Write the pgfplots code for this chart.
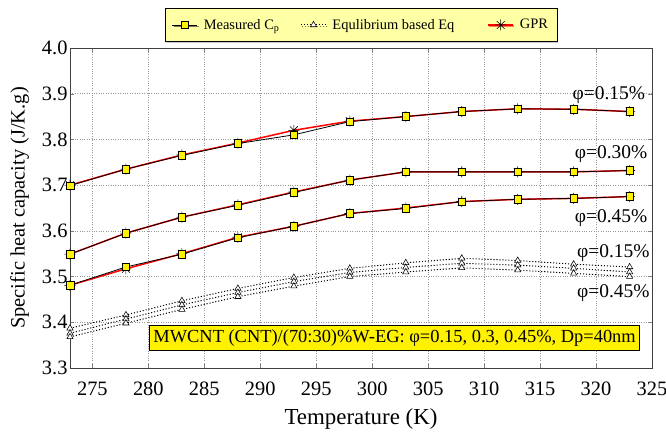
\documentclass[border=0pt]{standalone}
\usepackage{fontspec}
\setmainfont{Liberation Serif}
\usepackage{pgfplots}
\usepackage{pgfplotstable}
\pgfplotsset{compat=1.18}
\usetikzlibrary{shadows}

\definecolor{legyellow}{RGB}{255,255,165}

\pgfdeclareplotmark{star8}{%
  \pgfpathmoveto{\pgfqpoint{-\pgfplotmarksize}{0pt}}%
  \pgfpathlineto{\pgfqpoint{\pgfplotmarksize}{0pt}}%
  \pgfpathmoveto{\pgfqpoint{0pt}{-\pgfplotmarksize}}%
  \pgfpathlineto{\pgfqpoint{0pt}{\pgfplotmarksize}}%
  \pgfpathmoveto{\pgfqpoint{-0.7071\pgfplotmarksize}{-0.7071\pgfplotmarksize}}%
  \pgfpathlineto{\pgfqpoint{0.7071\pgfplotmarksize}{0.7071\pgfplotmarksize}}%
  \pgfpathmoveto{\pgfqpoint{-0.7071\pgfplotmarksize}{0.7071\pgfplotmarksize}}%
  \pgfpathlineto{\pgfqpoint{0.7071\pgfplotmarksize}{-0.7071\pgfplotmarksize}}%
  \pgfusepathqstroke}

\pgfplotstableread{
T m15 m30 m45 g15 g30 g45 e15 e30 e45
273 3.699 3.549 3.481 3.700 3.549 3.481 3.387 3.376 3.368
278 3.735 3.595 3.521 3.735 3.595 3.517 3.416 3.407 3.398
283 3.765 3.630 3.549 3.766 3.630 3.550 3.447 3.438 3.428
288 3.791 3.656 3.585 3.792 3.657 3.586 3.474 3.465 3.456
293 3.810 3.684 3.610 3.820 3.685 3.610 3.498 3.489 3.479
298 3.839 3.711 3.638 3.840 3.711 3.638 3.518 3.509 3.500
303 3.850 3.729 3.649 3.850 3.729 3.650 3.530 3.520 3.510
308 3.861 3.729 3.664 3.861 3.729 3.664 3.540 3.529 3.519
313 3.867 3.729 3.669 3.867 3.729 3.669 3.535 3.525 3.514
318 3.866 3.729 3.671 3.866 3.729 3.671 3.527 3.518 3.507
323 3.861 3.732 3.675 3.861 3.732 3.675 3.521 3.510 3.500
}\data

\pgfplotsset{
  gpr/.style={red, line width=1.5pt, mark=star8, mark size=5.5bp,
    mark options={black, line width=0.55pt, solid}},
  meas/.style={black, line width=0.8pt, mark=square*, mark size=3.8bp,
    mark options={fill=yellow, draw=black, line width=0.55pt, solid}},
  eqb/.style={black, dash pattern=on 1.1pt off 1.9pt, line width=1pt, mark=triangle*, mark size=3.6bp,
    mark options={solid, draw=black, fill=white, line width=0.55pt}},
}

\begin{document}
\begin{tikzpicture}
\begin{axis}[
  scale only axis, width=582bp, height=320bp,
  xmin=273, xmax=325, ymin=3.3, ymax=4.0,
  xtick={275,280,...,325},
  ytick={3.3,3.4,3.5,3.6,3.7,3.8,3.9,4.0},
  yticklabel style={xshift=1bp, /pgf/number format/.cd, fixed, fixed zerofill, precision=1},
  /pgf/number format/assume math mode=true,
  tick label style={font=\fontsize{20.5}{21}\selectfont},
  xticklabel style={yshift=-10bp},
  grid=major,
  major grid style={dotted, gray!80, line width=0.6pt},
  tick align=inside, major tick length=4bp,
  axis line style={black!75, line width=0.9pt},
  xlabel={Temperature (K)},
  ylabel={Specific heat capacity (J/K.g)},
  xlabel style={font=\fontsize{23}{23}\selectfont},
  ylabel style={font=\fontsize{20.5}{21}\selectfont},
  xlabel shift=6bp,
  ylabel shift=6bp,
  legend columns=3,
  legend style={at={(0.5,1)}, anchor=south, yshift=6bp,
    fill=legyellow, draw=black, line width=0.6pt,
    drop shadow={shadow xshift=1.2bp, shadow yshift=-1.2bp, fill=gray!80},
    font=\fontsize{14.5}{15}\selectfont,
    inner xsep=7bp, inner ysep=6bp,
    nodes={inner ysep=5bp},
    /tikz/column 1/.style={column sep=4bp},
    /tikz/column 3/.style={column sep=4bp},
    /tikz/column 5/.style={column sep=4bp},
    /tikz/column 2/.style={column sep=19bp},
    /tikz/column 4/.style={column sep=31bp}},
  legend image code/.code={\draw[mark repeat=2,mark phase=2] plot coordinates {(0bp,0bp) (12.5bp,0bp) (25bp,0bp)};},
]
\addlegendimage{meas}
\addlegendentry{Measured C\textsubscript{p}}
\addlegendimage{eqb}
\addlegendentry{Equlibrium based Eq}
\addlegendimage{gpr}
\addlegendentry{GPR}

\addplot[eqb, forget plot] table[x=T, y=e15] {\data};
\addplot[eqb, forget plot] table[x=T, y=e30] {\data};
\addplot[eqb, forget plot] table[x=T, y=e45] {\data};

\addplot[gpr, forget plot] table[x=T, y=g15] {\data};
\addplot[gpr, forget plot] table[x=T, y=g30] {\data};
\addplot[gpr, forget plot] table[x=T, y=g45] {\data};

\addplot[meas, forget plot] table[x=T, y=m15] {\data};
\addplot[meas, forget plot] table[x=T, y=m30] {\data};
\addplot[meas, forget plot] table[x=T, y=m45] {\data};

\node[fill=yellow, draw=black, line width=0.6pt, font=\fontsize{18.5}{19}\selectfont, inner xsep=4bp, inner ysep=4bp]
  at (axis cs:302,3.366) {MWCNT (CNT)/(70:30)\%W-EG: φ=0.15, 0.3, 0.45\%, Dp=40nm};

\begin{scope}[every node/.style={font=\fontsize{19.5}{20}\selectfont, anchor=east, inner sep=0pt}]
\node at (axis cs:324.4,3.897) {φ=0.15\%};
\node at (axis cs:324.6,3.768) {φ=0.30\%};
\node at (axis cs:324.6,3.627) {φ=0.45\%};
\node at (axis cs:324.8,3.551) {φ=0.15\%};
\node at (axis cs:324.8,3.463) {φ=0.45\%};
\end{scope}
\end{axis}
\pgfresetboundingbox
\path[use as bounding box] ([xshift=-70bp,yshift=-66bp]current axis.south west) rectangle ([xshift=14bp,yshift=48bp]current axis.north east);
\end{tikzpicture}
\end{document}
